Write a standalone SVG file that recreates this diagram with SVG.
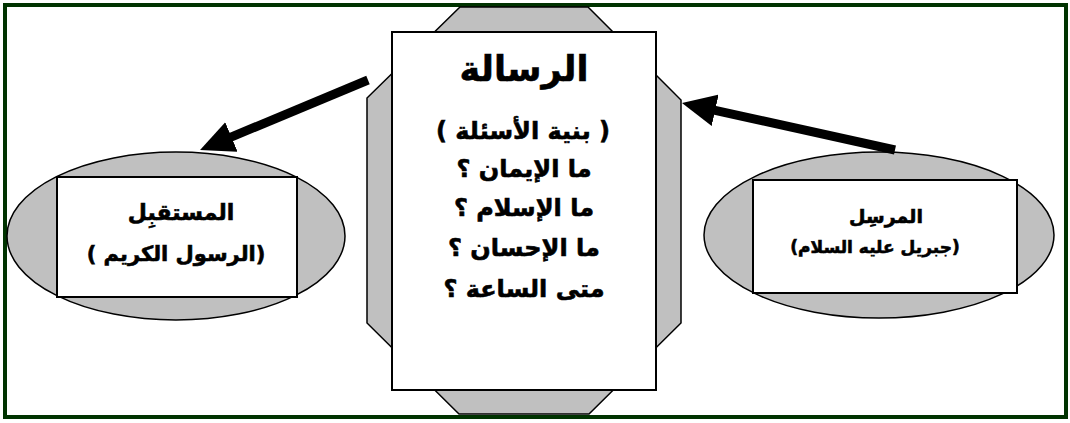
<svg xmlns="http://www.w3.org/2000/svg" width="1070" height="423" viewBox="0 0 1070 423">
<style>
.shape{fill:#c0c0c0;stroke:#000;stroke-width:1.5}
.box{fill:#fff;stroke:#000;stroke-width:2}
.t{font-family:"DejaVu Sans",sans-serif;font-weight:bold;fill:#000;stroke:#000;stroke-width:0.6;text-anchor:middle;direction:rtl}
.conn{stroke:#000;stroke-width:9;fill:none}
</style>
<defs>
<marker id="ah" markerUnits="userSpaceOnUse" viewBox="0 0 34 32" refX="14" refY="16" markerWidth="34" markerHeight="32" orient="auto">
<path d="M0,0 L34,16 L0,32 Z" fill="#000"/>
</marker>
</defs>
<rect x="5" y="5" width="1061" height="412" fill="#fff" stroke="#003300" stroke-width="4"/>
<g id="message">
<polygon class="shape" points="460,7 588,7 681,100 681,323 589,414 459,414 367,323 367,98"/>
<rect class="box" x="392" y="32" width="264" height="358"/>
<text class="t" x="524" y="81" font-size="35">الرسالة</text>
<text class="t" x="523" y="139" font-size="24">( بنية الأسئلة )</text>
<text class="t" x="524" y="177" font-size="24">ما الإيمان ؟</text>
<text class="t" x="524" y="216" font-size="24">ما الإسلام ؟</text>
<text class="t" x="524" y="256" font-size="24">ما الإحسان ؟</text>
<text class="t" x="524" y="297" font-size="24">متى الساعة ؟</text>
</g>
<g id="receiver">
<ellipse class="shape" cx="176" cy="236" rx="169" ry="84"/>
<rect class="box" x="57" y="177" width="240" height="120"/>
<text class="t" x="181" y="220" font-size="22">المستقبِل</text>
<text class="t" x="176" y="261" font-size="21">(الرسول الكريم )</text>
</g>
<g id="sender">
<ellipse class="shape" cx="879" cy="235" rx="175" ry="83"/>
<rect class="box" x="753" y="180" width="264" height="113"/>
<text class="t" x="886" y="223" font-size="19">المرسِل</text>
<text class="t" x="875" y="253" font-size="17">(جبريل عليه السلام)</text>
</g>
<g id="connectors">
<line class="conn" x1="368" y1="80" x2="218.5" y2="142.3" marker-end="url(#ah)"/>
<line class="conn" x1="895" y1="150" x2="701.5" y2="107.3" marker-end="url(#ah)"/>
</g>
</svg>
